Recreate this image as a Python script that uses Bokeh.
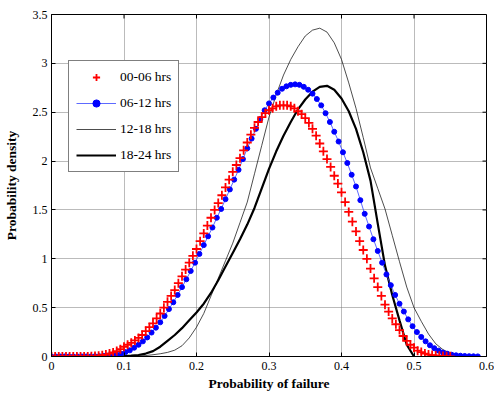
import numpy as np
from bokeh.plotting import figure
from bokeh.models import Range1d, FixedTicker, Legend, LegendItem
from bokeh.embed import file_html
from bokeh.resources import INLINE

# ---------------- data ----------------
# 00-06 hrs : red '+' markers, sampled every 0.005 from 0 to 0.55
red_x0, red_dx = 0.0, 0.005
red_y = [0, 0, 0, 0, 0, 0, 0, 0, 0, 0, 0, 0.002,
         0.004, 0.008, 0.013, 0.02, 0.03, 0.042, 0.056, 0.075, 0.10,
         0.12, 0.14, 0.165, 0.19, 0.22, 0.26, 0.30, 0.34, 0.39, 0.44,
         0.50, 0.56, 0.62, 0.68, 0.75, 0.82, 0.89, 0.96, 1.03, 1.10,
         1.18, 1.26, 1.34, 1.42, 1.50, 1.57, 1.65, 1.73, 1.81, 1.89,
         1.96, 2.03, 2.11, 2.19, 2.27, 2.34, 2.40, 2.45, 2.49, 2.52,
         2.54, 2.56, 2.57, 2.57, 2.57, 2.56, 2.54, 2.51, 2.48, 2.44,
         2.39, 2.33, 2.26, 2.18, 2.10, 2.02, 1.94, 1.85, 1.77, 1.68,
         1.58, 1.48, 1.38, 1.28, 1.18, 1.09, 1.00, 0.90, 0.80, 0.71,
         0.62, 0.53, 0.46, 0.39, 0.33, 0.27, 0.21, 0.16, 0.12, 0.09,
         0.06, 0.045, 0.03, 0.02, 0.015, 0.01, 0.007, 0.005, 0.003, 0.002]

# 06-12 hrs : blue dots joined by a line, sampled every 0.006 from 0 to 0.588
blue_x0, blue_dx = 0.0, 0.006
blue_y = [0, 0, 0, 0, 0, 0, 0, 0, 0, 0, 0.002, 0.003,
          0.006, 0.009, 0.013, 0.018, 0.028, 0.045, 0.063, 0.09, 0.12,
          0.155, 0.195, 0.245, 0.295, 0.35, 0.415, 0.485, 0.555, 0.63, 0.71,
          0.79, 0.875, 0.96, 1.05, 1.14, 1.23, 1.32, 1.42, 1.51, 1.61,
          1.71, 1.81, 1.91, 2.02, 2.13, 2.23, 2.33, 2.43, 2.52, 2.59,
          2.65, 2.70, 2.74, 2.765, 2.78, 2.785, 2.78, 2.76, 2.73, 2.69,
          2.635, 2.57, 2.49, 2.40, 2.30, 2.20, 2.09, 1.98, 1.86, 1.74,
          1.60, 1.46, 1.33, 1.20, 1.08, 0.96, 0.84, 0.73, 0.63, 0.54,
          0.46, 0.38, 0.31, 0.25, 0.20, 0.155, 0.115, 0.085, 0.06, 0.04,
          0.028, 0.018, 0.012, 0.008, 0.005, 0.003, 0.002, 0.001]

# 12-18 hrs : thin black line, every 0.01 from 0 to 0.58
thin_x0, thin_dx = 0.0, 0.01
thin_y = [0, 0, 0, 0, 0, 0, 0, 0, 0, 0, 0,
          0.002, 0.005, 0.01, 0.018, 0.028, 0.042, 0.065, 0.11, 0.19, 0.30,
          0.44, 0.62, 0.80, 0.98, 1.16, 1.37, 1.58, 1.87, 2.16, 2.45,
          2.68, 2.88, 3.04, 3.17, 3.28, 3.34, 3.36, 3.32, 3.21, 3.04,
          2.80, 2.54, 2.24, 1.93, 1.72, 1.51, 1.24, 0.97, 0.71, 0.50,
          0.36, 0.23, 0.13, 0.07, 0.035, 0.015, 0.005, 0.0]

# 18-24 hrs : thick black line, every 0.01 from 0 to 0.50
thick_x0, thick_dx = 0.0, 0.01
thick_y = [0, 0, 0, 0, 0, 0, 0, 0, 0, 0, 0.003,
           0.008, 0.015, 0.03, 0.055, 0.10, 0.16, 0.22, 0.29, 0.37, 0.45,
           0.54, 0.65, 0.78, 0.92, 1.06, 1.20, 1.35, 1.52, 1.72, 1.92,
           2.10, 2.26, 2.40, 2.53, 2.63, 2.71, 2.76, 2.77, 2.73, 2.64,
           2.51, 2.33, 2.09, 1.80, 1.36, 0.93, 0.63, 0.37, 0.12, 0.0]

labels = ["00-06 hrs", "06-12 hrs", "12-18 hrs", "18-24 hrs"]
x_ticks = [0, 0.1, 0.2, 0.3, 0.4, 0.5, 0.6]
y_ticks = [0, 0.5, 1, 1.5, 2, 2.5, 3, 3.5]
x_label = "Probability of failure"
y_label = "Probability density"
X_MIN, X_MAX = 0, 0.6
Y_MIN, Y_MAX = 0, 3.5


def grid(x0, dx, ys):
    return [round(x0 + i * dx, 4) for i in range(len(ys))]


red_x = grid(red_x0, red_dx, red_y)
blue_x = grid(blue_x0, blue_dx, blue_y)
thin_x = grid(thin_x0, thin_dx, thin_y)
thick_x = grid(thick_x0, thick_dx, thick_y)

# ---------------- figure ----------------
SERIF = "Liberation Serif"

p = figure(width=494, height=394,
           x_range=Range1d(X_MIN, X_MAX), y_range=Range1d(Y_MIN, Y_MAX),
           output_backend="svg", toolbar_location=None,
           min_border_left=51, min_border_right=8,
           min_border_top=14, min_border_bottom=38,
           background_fill_color="white", border_fill_color="white")

p.outline_line_color = "black"
p.outline_line_width = 1

xt = FixedTicker(ticks=x_ticks)
yt = FixedTicker(ticks=y_ticks)

for ax in (p.xaxis[0], p.yaxis[0]):
    ax.axis_line_color = "black"
    ax.major_tick_in = 4
    ax.major_tick_out = 0
    ax.minor_tick_line_color = None
    ax.major_tick_line_color = "black"
    ax.major_label_text_font = SERIF
    ax.major_label_text_font_size = "12px"
    ax.major_label_text_color = "black"
    ax.axis_label_text_font = SERIF
    ax.axis_label_text_font_size = "13.5px"
    ax.axis_label_text_font_style = "bold"
    ax.axis_label_text_color = "black"

p.xaxis[0].ticker = xt
p.yaxis[0].ticker = yt
p.xaxis[0].axis_label = x_label
p.yaxis[0].axis_label = y_label
p.xaxis[0].major_label_standoff = 5
p.xaxis[0].axis_label_standoff = 3
p.yaxis[0].major_label_standoff = 4
p.yaxis[0].axis_label_standoff = 11

p.xgrid.ticker = xt
p.ygrid.ticker = yt
for g in (p.xgrid[0], p.ygrid[0]):
    g.grid_line_color = "#777777"
    g.grid_line_dash = "1 1"
    g.grid_line_width = 1

# inward tick marks on the top and right edges of the box
p.ray(x=x_ticks, y=[Y_MAX] * len(x_ticks), length=4, length_units="screen",
      angle=-np.pi / 2, line_color="black", line_width=1)
p.ray(x=[X_MAX] * len(y_ticks), y=y_ticks, length=4, length_units="screen",
      angle=np.pi, line_color="black", line_width=1)

# ---------------- series ----------------
r_thin = p.line(thin_x, thin_y, line_color="black", line_width=0.7)
r_thick = p.line(thick_x, thick_y, line_color="black", line_width=2.2)
r_blue_l = p.line(blue_x, blue_y, line_color="#3344ff", line_width=0.8)
r_blue_m = p.scatter(blue_x, blue_y, marker="circle", size=5,
                     fill_color="#0000ff", line_color="#0000ff")
r_red = p.scatter(red_x, red_y, marker="cross", size=9,
                  line_color="#ff0000", line_width=1.8)

legend = Legend(items=[
    LegendItem(label=labels[0], renderers=[r_red]),
    LegendItem(label=labels[1], renderers=[r_blue_l, r_blue_m]),
    LegendItem(label=labels[2], renderers=[r_thin]),
    LegendItem(label=labels[3], renderers=[r_thick]),
], location=(17, 184))
legend.label_text_font = SERIF
legend.label_text_font_size = "13.5px"
legend.label_text_color = "black"
legend.glyph_width = 40
legend.glyph_height = 18
legend.spacing = 8
legend.padding = 7
legend.margin = 0
legend.label_standoff = 4
legend.border_line_color = "black"
legend.border_line_width = 1
legend.background_fill_color = "white"
legend.background_fill_alpha = 1
p.add_layout(legend)

open("out.html", "w").write(file_html(p, INLINE))
